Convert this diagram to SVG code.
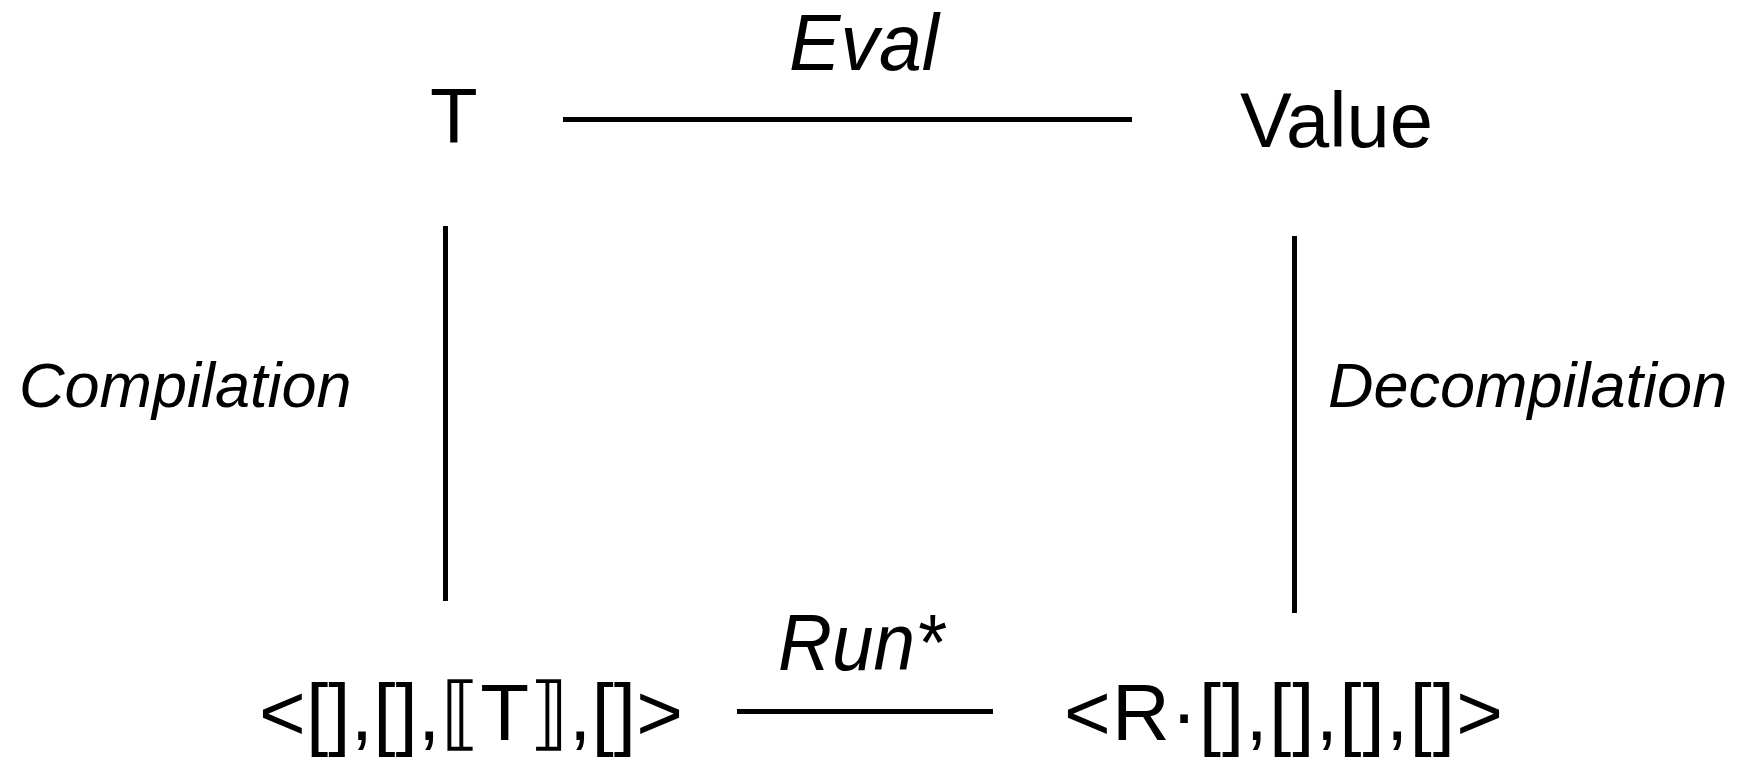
<svg xmlns="http://www.w3.org/2000/svg" width="1744" height="757" viewBox="0 0 1744 757">
  <style>
    .term { font-family: "Liberation Sans", Arial, "DejaVu Sans", sans-serif; fill: #000; }
    .label { font-family: "Liberation Sans", Arial, sans-serif; font-style: italic; fill: #000; }
    .edge { stroke: #000; stroke-width: 5; fill: none; }
  </style>
  <rect width="1744" height="757" fill="#fff"/>

  <!-- terms at the four corners of the square -->
  <g id="node-term">
    <text class="term" x="430" y="143" font-size="78">T</text>
  </g>
  <g id="node-value">
    <text class="term" x="1240" y="147" font-size="77" textLength="193" lengthAdjust="spacingAndGlyphs">Value</text>
  </g>
  <g id="node-initial-state">
    <text class="term" x="259" y="740" font-size="80" textLength="424" lengthAdjust="spacing">&lt;[],[],⟦T⟧,[]&gt;</text>
  </g>
  <g id="node-final-state">
    <text class="term" x="1064" y="740" font-size="80" textLength="439" lengthAdjust="spacing">&lt;R·[],[],[],[]&gt;</text>
  </g>

  <!-- connectors with their labels -->
  <g id="connectors">
    <g id="edge-eval">
      <line class="edge" x1="563" y1="119.5" x2="1132" y2="119.5"/>
      <text class="label" x="789" y="70" font-size="79" textLength="150" lengthAdjust="spacingAndGlyphs">Eval</text>
    </g>
    <g id="edge-compilation">
      <line class="edge" x1="445.5" y1="226" x2="445.5" y2="601"/>
      <text class="label" x="19" y="407" font-size="63">Compilation</text>
    </g>
    <g id="edge-decompilation">
      <line class="edge" x1="1294.5" y1="236" x2="1294.5" y2="613"/>
      <text class="label" x="1328" y="407" font-size="63">Decompilation</text>
    </g>
    <g id="edge-run">
      <line class="edge" x1="737" y1="711.5" x2="993" y2="711.5"/>
      <text class="label" x="778" y="670" font-size="80" textLength="166" lengthAdjust="spacingAndGlyphs">Run*</text>
    </g>
  </g>
</svg>
